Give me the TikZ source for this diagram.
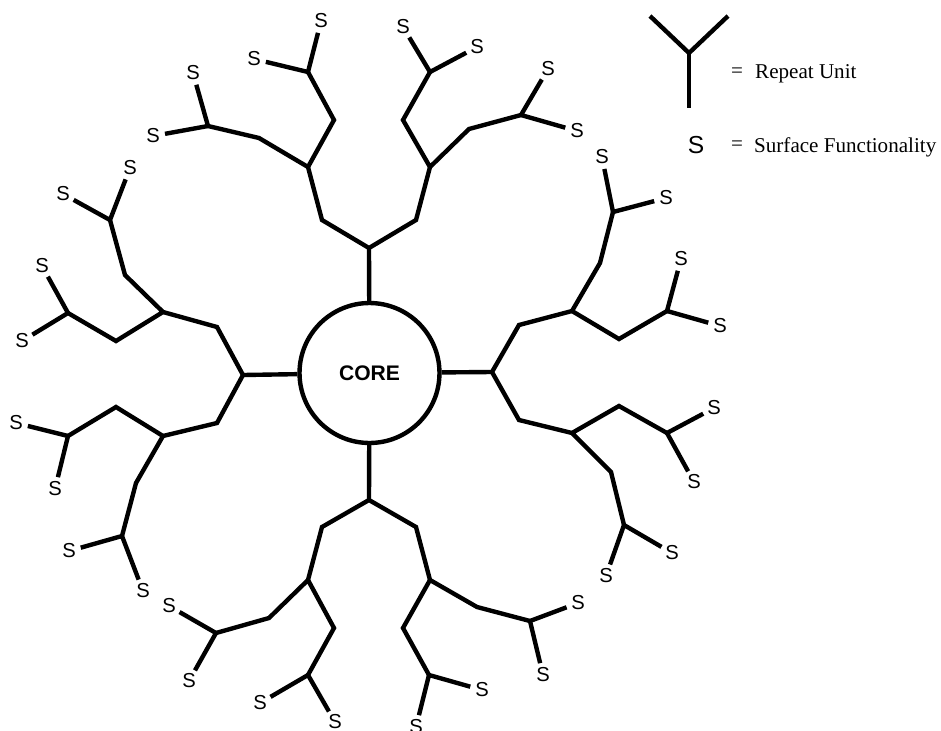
\documentclass[tikz,border=0pt]{standalone}
\usepackage{fontspec}
\setmainfont{Liberation Serif}
\setsansfont{Liberation Sans}
\tikzset{
  sgroup/.style={circle,inner sep=0pt,minimum size=0.4cm,font=\sffamily\fontsize{11.5}{13}\selectfont},
  legtext/.style={anchor=west,inner sep=0pt,font=\fontsize{12}{14}\selectfont}
}
\begin{document}
\begin{tikzpicture}[x=0.02cm,y=-0.02cm,line width=2.5pt,line join=miter]
\useasboundingbox (0,0) rectangle (941,731);
\node (core) [circle,minimum size=2.8cm,inner sep=0pt,draw,font=\sffamily\bfseries\fontsize{12}{14}\selectfont] at (369.5,373) {\raisebox{-1pt}{CORE}};

\coordinate (T) at (369,248);
\coordinate (TA) at (322,220);
\coordinate (TB) at (416,220);
\coordinate (TL) at (308,167);
\coordinate (TR) at (430,167);
\coordinate (TLA) at (259,138);
\coordinate (TLB) at (334,120);
\coordinate (TRA) at (403,120);
\coordinate (TRB) at (469,129);
\coordinate (TLL) at (208,126);
\coordinate (TLR) at (308,72);
\coordinate (TRL) at (430,72);
\coordinate (TRR) at (521,115);
\node (s1) [sgroup] at (193,73) {S};
\node (s2) [sgroup] at (153,136) {S};
\node (s3) [sgroup] at (321,21) {S};
\node (s4) [sgroup] at (254,59) {S};
\node (s5) [sgroup] at (403,27) {S};
\node (s6) [sgroup] at (477,47) {S};
\node (s7) [sgroup] at (548,69) {S};
\node (s8) [sgroup] at (577,131) {S};

\coordinate (B) at (369,500);
\coordinate (BA) at (322,527);
\coordinate (BB) at (416,527);
\coordinate (BL) at (308,580);
\coordinate (BR) at (430,580);
\coordinate (BLA) at (269,618);
\coordinate (BLB) at (334,628);
\coordinate (BRA) at (403,628);
\coordinate (BRB) at (477,607);
\coordinate (BLL) at (216,633);
\coordinate (BLR) at (308,675);
\coordinate (BRL) at (429,675);
\coordinate (BRR) at (530,621);
\node (s9) [sgroup] at (169,606) {S};
\node (s10) [sgroup] at (189,681) {S};
\node (s11) [sgroup] at (260,703) {S};
\node (s12) [sgroup] at (335,722) {S};
\node (s13) [sgroup] at (482,690) {S};
\node (s14) [sgroup] at (416,727) {S};
\node (s15) [sgroup] at (578,603) {S};
\node (s16) [sgroup] at (543,675) {S};

\coordinate (L) at (243,375);
\coordinate (LA) at (217,327);
\coordinate (LB) at (217,423);
\coordinate (LU) at (163,312);
\coordinate (LD) at (163,436);
\coordinate (LUA) at (125,275);
\coordinate (LUB) at (116,341);
\coordinate (LDA) at (116,407);
\coordinate (LDB) at (136,483);
\coordinate (LUU) at (110,220);
\coordinate (LUD) at (68,313);
\coordinate (LDU) at (68,436);
\coordinate (LDD) at (122,536);
\node (s17) [sgroup] at (130,168) {S};
\node (s18) [sgroup] at (63,194) {S};
\node (s19) [sgroup] at (42,266) {S};
\node (s20) [sgroup] at (22,341) {S};
\node (s21) [sgroup] at (16,423) {S};
\node (s22) [sgroup] at (55,489) {S};
\node (s23) [sgroup] at (69,551) {S};
\node (s24) [sgroup] at (143,591) {S};

\coordinate (R) at (492,372);
\coordinate (RA) at (519,325);
\coordinate (RB) at (519,420);
\coordinate (RU) at (572,311);
\coordinate (RD) at (572,433);
\coordinate (RUA) at (600,263);
\coordinate (RUB) at (619,339);
\coordinate (RDA) at (619,406);
\coordinate (RDB) at (611,472);
\coordinate (RUU) at (613,212);
\coordinate (RUD) at (667,311);
\coordinate (RDU) at (667,433);
\coordinate (RDD) at (624,525);
\node (s25) [sgroup] at (602,157) {S};
\node (s26) [sgroup] at (666,198) {S};
\node (s27) [sgroup] at (681,259) {S};
\node (s28) [sgroup] at (720,326) {S};
\node (s29) [sgroup] at (714,408) {S};
\node (s30) [sgroup] at (694,482) {S};
\node (s31) [sgroup] at (672,553) {S};
\node (s32) [sgroup] at (606,576) {S};

\draw (core) -- (T);
\draw (TL) -- (TA) -- (T) -- (TB) -- (TR);
\draw (TLL) -- (TLA) -- (TL) -- (TLB) -- (TLR);
\draw (TRL) -- (TRA) -- (TR) -- (TRB) -- (TRR);
\draw (s1) -- (TLL) -- (s2);
\draw (s3) -- (TLR) -- (s4);
\draw (s5) -- (TRL) -- (s6);
\draw (s7) -- (TRR) -- (s8);

\draw (core) -- (B);
\draw (BL) -- (BA) -- (B) -- (BB) -- (BR);
\draw (BLL) -- (BLA) -- (BL) -- (BLB) -- (BLR);
\draw (BRL) -- (BRA) -- (BR) -- (BRB) -- (BRR);
\draw (s9) -- (BLL) -- (s10);
\draw (s11) -- (BLR) -- (s12);
\draw (s13) -- (BRL) -- (s14);
\draw (s15) -- (BRR) -- (s16);

\draw (core) -- (L);
\draw (LU) -- (LA) -- (L) -- (LB) -- (LD);
\draw (LUU) -- (LUA) -- (LU) -- (LUB) -- (LUD);
\draw (LDU) -- (LDA) -- (LD) -- (LDB) -- (LDD);
\draw (s17) -- (LUU) -- (s18);
\draw (s19) -- (LUD) -- (s20);
\draw (s21) -- (LDU) -- (s22);
\draw (s23) -- (LDD) -- (s24);

\draw (core) -- (R);
\draw (RU) -- (RA) -- (R) -- (RB) -- (RD);
\draw (RUU) -- (RUA) -- (RU) -- (RUB) -- (RUD);
\draw (RDU) -- (RDA) -- (RD) -- (RDB) -- (RDD);
\draw (s25) -- (RUU) -- (s26);
\draw (s27) -- (RUD) -- (s28);
\draw (s29) -- (RDU) -- (s30);
\draw (s31) -- (RDD) -- (s32);

\coordinate (Y) at (689,53);
\coordinate (Ya) at (650,16);
\coordinate (Yb) at (728,16);
\coordinate (Yc) at (689,108);
\draw (Ya) -- (Y) -- (Yb);
\draw (Y) -- (Yc);
\node (eq1) [legtext] at (729,73) {=};
\node (rep) [legtext] at (753,74) {Repeat Unit};
\node (legS) [font=\sffamily\fontsize{14}{16}\selectfont,inner sep=0pt] at (696,145) {S};
\node (eq2) [legtext] at (729,146) {=};
\node (surf) [legtext] at (752,147) {Surface Functionality};
\end{tikzpicture}
\end{document}
